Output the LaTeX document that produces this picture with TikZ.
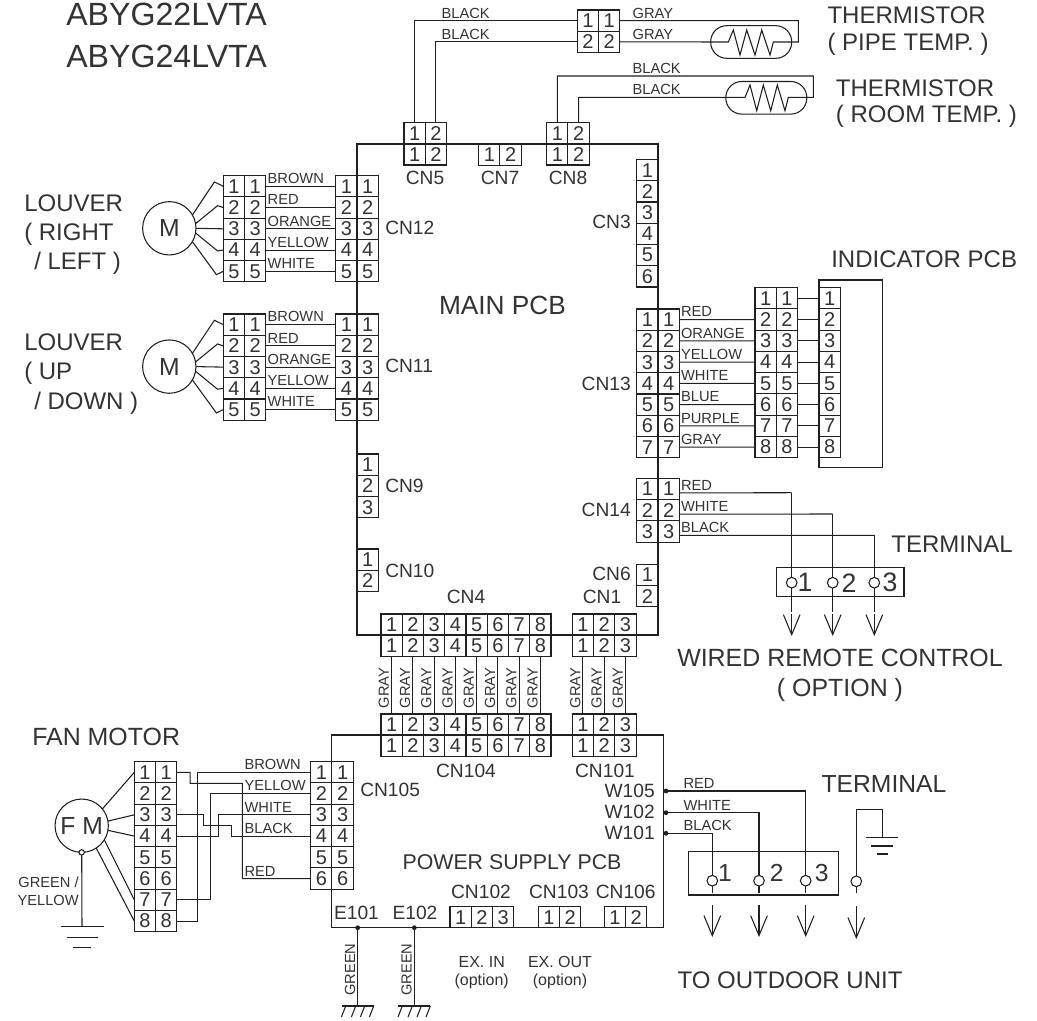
\documentclass[tikz,border=0pt]{standalone}
\usepackage{fontspec}
\setmainfont{Liberation Sans}
\usetikzlibrary{arrows.meta,calc}
\definecolor{inkwire}{HTML}{231F20}
\definecolor{inktext}{HTML}{333333}
\tikzset{
  pinbox/.style={draw=inkwire, rectangle, line width=0.8pt, inner sep=0pt, outer sep=0pt, minimum size=15.94pt, font=\fontsize{15}{17}\selectfont, text=inktext},
  wire/.style={draw=inkwire, line width=0.8pt},
  wirelbl/.style={anchor=south west, inner xsep=1pt, inner ysep=1.6pt, font=\fontsize{11}{13}\selectfont, text=inktext},
  uplbl/.style={rotate=90, anchor=south, inner xsep=0pt, inner ysep=1.5pt, font=\fontsize{11}{13}\selectfont, text=inktext},
  cnlbl/.style={inner sep=0pt, font=\fontsize{14.4}{16}\selectfont, text=inktext},
  biglbl/.style={inner sep=0pt, font=\fontsize{18}{20}\selectfont, text=inktext},
  smalllbl/.style={inner sep=0pt, align=center, font=\fontsize{12}{13.7}\selectfont, text=inktext},
  motor/.style={draw=inkwire, circle, line width=0.8pt, inner sep=0pt, outer sep=0pt, minimum size=40pt, font=\fontsize{18.5}{20}\selectfont, text=inktext},
  termpt/.style={draw=inkwire, circle, line width=0.8pt, inner sep=0pt, outer sep=0pt, minimum size=8pt},
  soldpt/.style={fill=inkwire, circle, inner sep=0pt, outer sep=0pt, minimum size=3.6pt},
  outarrow/.style={wire, -{Straight Barb[length=15pt,width=12.5pt]}},
}
% connector blocks: name, left, top, columns, rows
\newcommand{\rowpins}[5]{%
  \foreach \r in {1,...,#5}{\foreach \c in {1,...,#4}{
    \node[pinbox] (#1-\r-\c) at ({#2+(\c-.5)*21.25},{#3+(\r-.5)*21.25}) {\r};}}}
\newcommand{\colpins}[5]{%
  \foreach \r in {1,...,#5}{\foreach \c in {1,...,#4}{
    \node[pinbox] (#1-\r-\c) at ({#2+(\c-.5)*21.25},{#3+(\r-.5)*21.25}) {\c};}}}
\begin{document}
\begin{tikzpicture}[x=0.75pt, y=-0.75pt]
\useasboundingbox (0,0) rectangle (1037,1020);
% boards
\draw[wire] (357,144) rectangle (658,635);
\draw[wire] (331.7,735) rectangle (663.3,927.7);
\draw[wire] (819,280) rectangle (882.7,467.3);
\node[biglbl, font=\fontsize{19.7}{22}\selectfont] (mainpcb) at (502.5,305) {MAIN PCB};
\node[biglbl, font=\fontsize{16}{18}\selectfont] (powerpcb) at (512,862) {POWER SUPPLY PCB};
\node[biglbl, anchor=west, font=\fontsize{24.1}{26}\selectfont] (modela) at (66,14) {ABYG22LVTA};
\node[biglbl, anchor=west, font=\fontsize{24.1}{26}\selectfont] (modelb) at (66,56) {ABYG24LVTA};
% main pcb connectors
\colpins{cnfive}{404}{122.5}{2}{2}
\colpins{cnseven}{478.7}{144}{2}{1}
\colpins{cneight}{546.7}{122.5}{2}{2}
\rowpins{cnthree}{636.7}{159.5}{1}{6}
\rowpins{cnnine}{357}{454}{1}{3}
\rowpins{cnten}{357}{549}{1}{2}
\rowpins{cnsix}{636.7}{564.3}{1}{2}
\rowpins{cntwelve}{335.7}{175.7}{2}{5}
\rowpins{cneleven}{335.7}{314}{2}{5}
\rowpins{cnthirteen}{636.7}{309}{2}{7}
\rowpins{cnfourteen}{636.7}{478.3}{2}{3}
\colpins{cnfour}{381}{614}{8}{2}
\colpins{cnone}{572.3}{614}{3}{2}
\node[cnlbl] (lblfive) at (425,178) {CN5};
\node[cnlbl] (lblseven) at (500,178) {CN7};
\node[cnlbl] (lbleight) at (568,178) {CN8};
\node[cnlbl, anchor=east] (lblthree) at (631,222) {CN3};
\node[cnlbl, anchor=west] (lbltwelve) at (385,228) {CN12};
\node[cnlbl, anchor=west] (lbleleven) at (385,366) {CN11};
\node[cnlbl, anchor=west] (lblnine) at (385,486) {CN9};
\node[cnlbl, anchor=west] (lblten) at (385,571) {CN10};
\node[cnlbl, anchor=east] (lblthirteen) at (631,384) {CN13};
\node[cnlbl, anchor=east] (lblfourteen) at (631,510) {CN14};
\node[cnlbl, anchor=east] (lblsix) at (631,574) {CN6};
\node[cnlbl] (lblfour) at (466,597) {CN4};
\node[cnlbl] (lblone) at (602,597) {CN1};
% thermistors
\rowpins{pipe}{577.3}{10}{2}{2}
\draw[wire] (cnfive-1-1.north) |- (pipe-1-1.west);
\draw[wire] (cnfive-1-2.north) |- (pipe-2-1.west);
\node[wirelbl] (lblpipea) at (440,21) {BLACK};
\node[wirelbl] (lblpipeb) at (440,42) {BLACK};
\node[draw=inkwire, rounded corners=12pt, line width=0.8pt, minimum width=60.75pt, minimum height=24.45pt, inner sep=0pt] (pipesens) at (751.2,42) {};
\node[draw=inkwire, rounded corners=12pt, line width=0.8pt, minimum width=60.75pt, minimum height=24.45pt, inner sep=0pt] (roomsens) at (766.3,97.8) {};
\draw[wire] (pipe-2-2.east) -- (728.3,42) -- (733.3,30) -- (740,55) -- (746.7,30) -- (755,55) -- (761.7,30) -- (770,55) -- (773.3,42) -- (798.3,42) |- (pipe-1-2.east);
\node[wirelbl] (lblpipec) at (631,21) {GRAY};
\node[wirelbl] (lblpiped) at (631,42) {GRAY};
\draw[wire] (cneight-1-1.north) -- ++(0,-46.5) -- (813.3,76) -- (813.3,97.3) -- (788.3,97.3) -- (785,110.7) -- (777.3,85) -- (770.7,110.7) -- (763.3,85) -- (756.7,110.7) -- (750,85) -- (745,97.3) -- (578.7,97.3) -- (cneight-1-2.north);
\node[wirelbl] (lblrooma) at (631,76) {BLACK};
\node[wirelbl] (lblroomb) at (631,97.3) {BLACK};
\node[biglbl, anchor=west] (thermoa) at (827.3,15) {THERMISTOR};
\node[biglbl, anchor=west] (thermob) at (827.3,44) {( PIPE TEMP. )};
\node[biglbl, anchor=west] (thermoc) at (835.7,88) {THERMISTOR};
\node[biglbl, anchor=west] (thermod) at (835.7,116.7) {( ROOM TEMP. )};
% louvers
\rowpins{lourh}{223.3}{175.7}{2}{5}
\rowpins{loudn}{223.3}{314}{2}{5}
\foreach \pre/\tgt/\my in {lourh/cntwelve/228.3, loudn/cneleven/366.6}{
  \node[motor] (\pre-m) at (169.3,\my) {M};
  \draw[wire] (\pre-m.30) -- ++(22,-33) -- (\pre-1-1.west);
  \draw[wire] (\pre-m.10) -- ++(22,-18) -- (\pre-2-1.west);
  \draw[wire] (\pre-m.0) -- (\pre-3-1.west);
  \draw[wire] (\pre-m.-10) -- ++(22,18) -- (\pre-4-1.west);
  \draw[wire] (\pre-m.-30) -- ++(24,33) -- (\pre-5-1.west);
  \foreach \r/\col in {1/BROWN,2/RED,3/ORANGE,4/YELLOW,5/WHITE}{
    \draw[wire] (\pre-\r-2.east) -- (\tgt-\r-1.west) node[pos=0, wirelbl] (\pre-lbl\r) {\col};}
}
\node[biglbl, anchor=west] (lourha) at (24,203) {LOUVER};
\node[biglbl, anchor=west] (lourhb) at (24,234) {( RIGHT};
\node[biglbl, anchor=west] (lourhc) at (34,263) {/ LEFT )};
\node[biglbl, anchor=west] (loudna) at (24,342) {LOUVER};
\node[biglbl, anchor=west] (loudnb) at (24,373) {( UP};
\node[biglbl, anchor=west] (loudnc) at (34,403) {/ DOWN )};
% indicator
\rowpins{indmid}{755}{287.7}{2}{8}
\rowpins{indpcb}{819}{287.7}{1}{8}
\foreach \r/\s/\col in {1/2/RED,2/3/ORANGE,3/4/YELLOW,4/5/WHITE,5/6/BLUE,6/7/PURPLE,7/8/GRAY}{
  \draw[wire] (cnthirteen-\r-2.east) -- (indmid-\s-1.west) node[pos=0, wirelbl] (indlbl\r) {\col};}
\foreach \r in {1,...,8}{\draw[wire] (indmid-\r-2.east) -- (indpcb-\r-1.west);}
\node[biglbl, anchor=west] (indname) at (831,259) {INDICATOR PCB};
% wired remote control
\draw[wire] (776.7,567.7) rectangle (904,596.7);
\foreach \n/\tx/\rowy/\col/\nx in {1/791.7/492.7/RED/805, 2/832.7/514/WHITE/849, 3/874.3/535.3/BLACK/890}{
  \node[termpt] (rem\n) at (\tx,582.7) {};
  \coordinate (remend\n) at (\tx,611.7);
  \coordinate (remin\n) at (\tx,614);
  \coordinate (remtip\n) at (\tx,636);
  \draw[wire] ([yshift=-3pt]cnfourteen-\n-2.east) -- (\tx,\rowy) node[pos=0, wirelbl] (remlbl\n) {\col};
  \draw[wire] (\tx,\rowy) -- (rem\n.north);
  \draw[wire] (rem\n.south) -- (remend\n);
  \draw[outarrow] (remin\n) -- (remtip\n);
  \node[biglbl, font=\fontsize{20}{22}\selectfont] (remnum\n) at (\nx,582.7) {\n};
}
\node[biglbl, anchor=east] (remterm) at (1013,544) {TERMINAL};
\node[biglbl, font=\fontsize{18.7}{20}\selectfont] (remname) at (840,658) {WIRED REMOTE CONTROL};
\node[biglbl, font=\fontsize{18.7}{20}\selectfont] (remopt) at (840,690) {( OPTION )};
% power supply pcb connectors
\colpins{cnhfour}{381}{714}{8}{2}
\colpins{cnhone}{572.3}{714}{3}{2}
\colpins{cnhtwo}{450}{906.5}{3}{1}
\colpins{cnhthree}{538.3}{906.5}{2}{1}
\colpins{cnhsix}{604.3}{906.5}{2}{1}
\rowpins{cnhfive}{310.7}{761.7}{2}{6}
\foreach \c in {1,...,8}{
  \draw[wire] (cnfour-2-\c.south) -- (cnhfour-1-\c.north) node[pos=.55, uplbl] (graya\c) {GRAY};}
\foreach \c in {1,2,3}{
  \draw[wire] (cnone-2-\c.south) -- (cnhone-1-\c.north) node[pos=.55, uplbl] (grayb\c) {GRAY};}
\node[cnlbl] (lblhfour) at (466,770.7) {CN104};
\node[cnlbl] (lblhone) at (605,770.7) {CN101};
\node[cnlbl, anchor=west] (lblhfive) at (360,790) {CN105};
\node[cnlbl] (lblhtwo) at (481,892) {CN102};
\node[cnlbl] (lblhthree) at (559,892) {CN103};
\node[cnlbl] (lblhsix) at (625.7,892) {CN106};
\node[smalllbl] (exin) at (481.7,972.5) {EX. IN\\(option)};
\node[smalllbl] (exout) at (560,972.5) {EX. OUT\\(option)};
% fan motor
\rowpins{fan}{134.3}{761.7}{2}{8}
\node[motor] (fm) at (81.7,825.7) {F M};
\foreach \a/\r in {39/1,10/3,-10/4,-32/7,-57/8}{\draw[wire] (fm.\a) -- (fan-\r-1.west);}
\draw[wire] (fan-1-2.east) -- ++(13.4,0) -- ++(0,11) -- (242.3,783.3) |- (cnhfive-6-1.west);
\draw[wire] (fan-8-2.east) -- ++(20.7,0) |- (cnhfive-1-1.west);
\draw[wire] (fan-7-2.east) -- ++(33.4,0) |- (cnhfive-2-1.west);
\draw[wire] (fan-4-2.east) -- ++(41.7,0) |- (cnhfive-3-1.west);
\draw[wire] (fan-3-2.east) -- ++(26.7,0) -- ++(0,10.7) -- ++(28.3,0) |- (cnhfive-4-1.west);
\node[wirelbl] (fanlbla) at (243,772.3) {BROWN};
\node[wirelbl] (fanlblb) at (243,793.5) {YELLOW};
\node[wirelbl] (fanlblc) at (243,814.7) {WHITE};
\node[wirelbl] (fanlbld) at (243,836) {BLACK};
\node[wirelbl] (fanlble) at (243,878.5) {RED};
\node[biglbl, anchor=west, font=\fontsize{18.7}{20}\selectfont] (fanname) at (32,737) {FAN MOTOR};
\node[termpt, minimum size=4pt, fill=white] (fmpt) at (fm.south) {};
\coordinate (fmgnd) at (82,926.7);
\draw[wire] (fmpt) -- (fmgnd);
\draw[wire] (60.7,926.7) -- (104,926.7) (67,937.3) -- (97.7,937.3) (73,947.7) -- (91,947.7);
\node[inner sep=0pt, anchor=east, align=right, font=\fontsize{11}{13.5}\selectfont, text=inktext] (fmlbl) at (79,891) {GREEN /\\YELLOW};
% earth points
\node[cnlbl] (lble) at (356.5,913) {E101};
\node[cnlbl] (lblf) at (415,913) {E102};
\foreach \ex/\en in {357.7/ea, 414.3/eb}{
  \node[soldpt] (\en) at (\ex,927.7) {};
  \coordinate (\en g) at (\ex,1006);
  \draw[wire] (\en) -- (\en g) node[pos=.52, uplbl] (\en lbl) {GREEN};
  \draw[wire] ($(\en g)+(-16,0)$) -- ($(\en g)+(16,0)$);
  \foreach \dx in {-12,-2,7,16}{\draw[wire] (\ex+\dx,1006) -- (\ex+\dx-4.3,1017);}
}
% outdoor terminal
\foreach \n/\wy/\wn/\ty in {1/833.3/W101/833, 2/812.7/W102/811.7, 3/791/W105/790.7}{
  \node[soldpt] (wpt\n) at (666,\wy) {};
  \node[cnlbl, anchor=east] (wlbl\n) at (655,\ty) {\wn};}
\draw[wire] (688.3,851.7) rectangle (838.3,895);
\foreach \n/\tx/\col/\nx in {1/712.3/BLACK/725, 2/759/WHITE/776.7, 3/805.7/RED/821.7}{
  \node[termpt] (out\n) at (\tx,880.7) {};
  \coordinate (outend\n) at (\tx,893);
  \coordinate (outin\n) at (\tx,905);
  \coordinate (outtip\n) at (\tx,937);
  \draw[wire] (wpt\n) -| (out\n.north) node[pos=0, wirelbl, inner xsep=0pt, xshift=11pt] (outlbl\n) {\col};
  \draw[wire] (out\n.south) -- (outend\n);
  \draw[outarrow] (outin\n) -- (outtip\n);
  \node[biglbl, font=\fontsize{18.5}{20}\selectfont] (outnum\n) at (\nx,873) {\n};
}
\node[termpt] (gndpt) at (856.3,881.3) {};
\coordinate (gndtop) at (882.3,837.7);
\coordinate (gndend) at (856.3,893.3);
\coordinate (gndin) at (856.3,906);
\coordinate (gndtip) at (856.3,939);
\draw[wire] (gndpt.north) -- (856.3,809.7) -| (gndtop);
\draw[wire] (865.7,837.7) -- (898.3,837.7) (870.7,846) -- (893.3,846) (877,854) -- (888.3,854);
\draw[wire] (gndpt.south) -- (gndend);
\draw[outarrow] (gndin) -- (gndtip);
\node[biglbl, font=\fontsize{18.5}{20}\selectfont] (outterm) at (884,784) {TERMINAL};
\node[biglbl] (outname) at (790,980) {TO OUTDOOR UNIT};
\end{tikzpicture}
\end{document}
